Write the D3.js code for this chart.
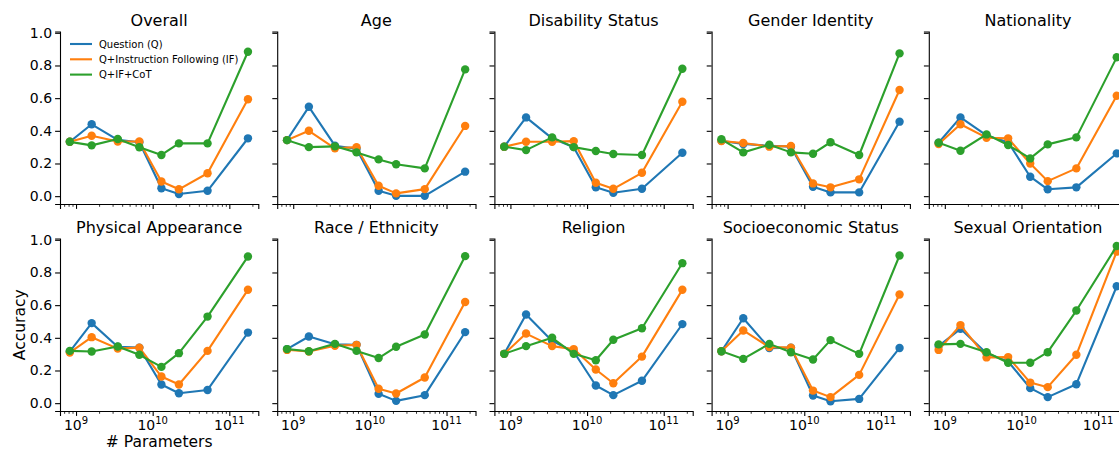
<!DOCTYPE html>
<html>
<head>
<meta charset="utf-8">
<script src="https://cdn.jsdelivr.net/npm/d3@7"></script>
<style>
  html, body { margin: 0; padding: 0; background: #fff; }
  svg { display: block; font-family: "DejaVu Sans", sans-serif; }
</style>
</head>
<body>
<svg id="chart" width="1119" height="449"></svg>
<script>
// ---- data ----
const params = [0.83e9, 1.6e9, 3.5e9, 6.7e9, 1.3e10, 2.2e10, 5.2e10, 1.75e11];
const panels = ["Overall", "Age", "Disability Status", "Gender Identity", "Nationality",
  "Physical Appearance", "Race / Ethnicity", "Religion", "Socioeconomic Status", "Sexual Orientation"];
const seriesNames = ["Question (Q)", "Q+Instruction Following (IF)", "Q+IF+CoT"];
const seriesColors = ["#1f77b4", "#ff7f0e", "#2ca02c"];
const yTicks = [0.0, 0.2, 0.4, 0.6, 0.8, 1.0];
const xTickExps = [9, 10, 11];

const questionQ = [
  [0.333, 0.440, 0.345, 0.330, 0.048, 0.013, 0.033, 0.354],
  [0.343, 0.547, 0.309, 0.290, 0.033, 0.002, 0.002, 0.150],
  [0.303, 0.482, 0.354, 0.300, 0.054, 0.021, 0.045, 0.266],
  [0.339, 0.319, 0.309, 0.303, 0.058, 0.023, 0.023, 0.456],
  [0.327, 0.482, 0.372, 0.330, 0.119, 0.042, 0.054, 0.262],
  [0.316, 0.490, 0.345, 0.340, 0.114, 0.061, 0.081, 0.432],
  [0.331, 0.408, 0.361, 0.357, 0.057, 0.014, 0.049, 0.435],
  [0.302, 0.543, 0.381, 0.315, 0.108, 0.049, 0.137, 0.484],
  [0.318, 0.520, 0.337, 0.340, 0.047, 0.012, 0.026, 0.338],
  [0.350, 0.455, 0.306, 0.255, 0.092, 0.037, 0.116, 0.716]
];
const qIF = [
  [0.333, 0.370, 0.335, 0.335, 0.090, 0.042, 0.140, 0.593],
  [0.343, 0.400, 0.293, 0.300, 0.064, 0.017, 0.043, 0.430],
  [0.303, 0.333, 0.333, 0.337, 0.082, 0.045, 0.143, 0.578],
  [0.337, 0.325, 0.303, 0.307, 0.078, 0.054, 0.103, 0.650],
  [0.319, 0.440, 0.358, 0.354, 0.200, 0.092, 0.170, 0.615],
  [0.310, 0.404, 0.334, 0.340, 0.163, 0.114, 0.320, 0.694],
  [0.326, 0.316, 0.351, 0.357, 0.088, 0.059, 0.157, 0.619],
  [0.302, 0.426, 0.349, 0.331, 0.206, 0.122, 0.285, 0.694],
  [0.318, 0.445, 0.343, 0.340, 0.077, 0.037, 0.173, 0.665],
  [0.326, 0.478, 0.280, 0.282, 0.126, 0.098, 0.296, 0.928]
];
const qIFCoT = [
  [0.333, 0.311, 0.350, 0.299, 0.252, 0.323, 0.323, 0.884],
  [0.343, 0.300, 0.305, 0.268, 0.225, 0.195, 0.170, 0.776],
  [0.303, 0.282, 0.360, 0.300, 0.276, 0.258, 0.252, 0.780],
  [0.348, 0.268, 0.315, 0.268, 0.260, 0.330, 0.252, 0.874],
  [0.327, 0.278, 0.378, 0.313, 0.231, 0.317, 0.360, 0.850],
  [0.320, 0.316, 0.347, 0.296, 0.222, 0.306, 0.530, 0.898],
  [0.331, 0.318, 0.363, 0.320, 0.276, 0.345, 0.420, 0.900],
  [0.302, 0.349, 0.400, 0.302, 0.263, 0.388, 0.459, 0.857],
  [0.318, 0.271, 0.363, 0.312, 0.267, 0.386, 0.302, 0.904],
  [0.360, 0.363, 0.312, 0.247, 0.247, 0.312, 0.567, 0.962]
];
const allSeries = [questionQ, qIF, qIFCoT];

// ---- layout ----
const svg = d3.select("#chart");
const colLeft = c => 60 + c * 217.2;
const rowTop = r => 31.5 + r * 207;
const pw = 198.3, ph = 172.5;

const x = d3.scaleLog().domain([Math.pow(10, 8.791), Math.pow(10, 11.378)]).range([0, pw]);
const y = d3.scaleLinear().domain([-0.048, 1.008]).range([ph, 0]);

const minorTicks = [];
for (let k = 8; k <= 11; k++) for (let m = 2; m <= 9; m++) {
  const v = m * Math.pow(10, k);
  if (v >= x.domain()[0] && v <= x.domain()[1]) minorTicks.push(v);
}

panels.forEach((name, i) => {
  const r = Math.floor(i / 5), c = i % 5;
  const g = svg.append("g").attr("transform", `translate(${colLeft(c)},${rowTop(r)})`);

  // y axis
  const yAxis = d3.axisLeft(y).tickValues(yTicks).tickSizeOuter(0).tickSize(4.9).tickPadding(3)
    .tickFormat(c === 0 ? d3.format(".1f") : () => "");
  const ya = g.append("g").call(yAxis);
  ya.select(".domain").attr("stroke-width", 1.1);
  ya.selectAll(".tick line").attr("stroke-width", 1.1);
  ya.selectAll(".tick text").attr("font-size", 14).attr("fill", "#000")
    .attr("font-family", "DejaVu Sans");

  // x axis major
  const xAxis = d3.axisBottom(x).tickValues(xTickExps.map(e => Math.pow(10, e)))
    .tickSizeOuter(0).tickSize(4.9).tickFormat(() => "");
  const xa = g.append("g").attr("transform", `translate(0,${ph})`).call(xAxis);
  xa.select(".domain").attr("stroke-width", 1.1);
  xa.selectAll(".tick line").attr("stroke-width", 1.1);
  // x axis minor
  const xMinor = d3.axisBottom(x).tickValues(minorTicks).tickSizeOuter(0).tickSize(2.8).tickFormat(() => "");
  const xm = g.append("g").attr("transform", `translate(0,${ph})`).call(xMinor);
  xm.select(".domain").remove();
  xm.selectAll(".tick line").attr("stroke-width", 0.8);

  if (r === 1) {
    xTickExps.forEach(e => {
      const t = g.append("text").attr("x", x(Math.pow(10, e))).attr("y", ph + 19)
        .attr("text-anchor", "middle").attr("font-size", 14).attr("fill", "#000");
      t.append("tspan").text("10");
      t.append("tspan").attr("font-size", 10).attr("dy", -6).text(String(e));
    });
  }

  // title
  g.append("text").attr("x", pw / 2).attr("y", -6).attr("text-anchor", "middle")
    .attr("font-size", 16).attr("fill", "#000").text(name);

  // series
  const line = d3.line().x((d, j) => x(params[j])).y(d => y(d));
  allSeries.forEach((s, si) => {
    const vals = s[i];
    g.append("path").datum(vals).attr("d", line).attr("fill", "none")
      .attr("stroke", seriesColors[si]).attr("stroke-width", 2.1)
      .attr("stroke-linejoin", "round").attr("stroke-linecap", "square");
    g.selectAll(null).data(vals).enter().append("circle")
      .attr("cx", (d, j) => x(params[j])).attr("cy", d => y(d)).attr("r", 4.2)
      .attr("fill", seriesColors[si]);
  });

  // legend in first panel
  if (i === 0) {
    const lg = g.append("g").attr("transform", "translate(10,12.5)");
    seriesNames.forEach((sn, si) => {
      const yy = si * 15.3;
      lg.append("line").attr("x1", 0).attr("x2", 22).attr("y1", yy).attr("y2", yy)
        .attr("stroke", seriesColors[si]).attr("stroke-width", 2.1);
      lg.append("text").attr("x", 29).attr("y", yy + 3.6).attr("font-size", 10)
        .attr("fill", "#000").text(sn);
    });
  }

  if (i === 5) {
    g.append("text").attr("x", pw / 2).attr("y", ph + 35.5).attr("text-anchor", "middle")
      .attr("font-size", 15.5).attr("fill", "#000").text("# Parameters");
    g.append("text").attr("transform", `translate(-35.5,${ph / 2}) rotate(-90)`)
      .attr("text-anchor", "middle").attr("font-size", 15.5).attr("fill", "#000").text("Accuracy");
  }
});
</script>
</body>
</html>
